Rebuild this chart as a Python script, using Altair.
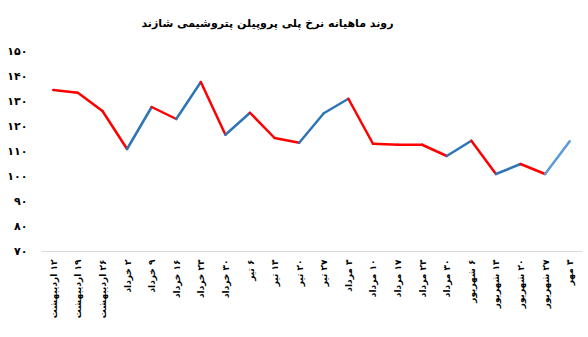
import altair as alt
import pandas as pd

title_text = "روند ماهیانه نرخ پلی پروپیلن پتروشیمی شازند"

labels = [
    "۱۲ اردیبهشت", "۱۹ اردیبهشت", "۲۶ اردیبهشت",
    "۲ خرداد", "۹ خرداد", "۱۶ خرداد", "۲۳ خرداد", "۳۰ خرداد",
    "۶ تیر", "۱۳ تیر", "۲۰ تیر", "۲۷ تیر",
    "۳ مرداد", "۱۰ مرداد", "۱۷ مرداد", "۲۳ مرداد", "۳۰ مرداد",
    "۶ شهریور", "۱۳ شهریور", "۲۰ شهریور", "۲۷ شهریور",
    "۳ مهر",
]
values = [
    134.4, 133.3, 126.0, 110.8, 127.6, 122.8, 137.6, 116.5,
    125.3, 115.2, 113.3, 125.1, 130.9, 112.9, 112.5, 112.5,
    108.0, 114.1, 100.8, 104.8, 100.8, 113.9,
]
y_ticks = [70, 80, 90, 100, 110, 120, 130, 140, 150]
y_tick_labels = ["۷۰", "۸۰", "۹۰", "۱۰۰", "۱۱۰", "۱۲۰", "۱۳۰", "۱۴۰", "۱۵۰"]

dir_names = ["down", "up", "last"]
dir_colors = ["#FF0000", "#2E75B6", "#5B9BD5"]

RLM = "\u200f"

rows = []
n = len(values)
for i in range(n - 1):
    if i == n - 2:
        d = "last"
    elif values[i + 1] > values[i]:
        d = "up"
    else:
        d = "down"
    rows.append(dict(label=RLM + labels[i], value=values[i], seg=i, dir=d))
    rows.append(dict(label=RLM + labels[i + 1], value=values[i + 1], seg=i, dir=d))
df = pd.DataFrame(rows)

label_map = "{" + ",".join(f"'{t}':'{l}'" for t, l in zip(y_ticks, y_tick_labels)) + "}"

FONT = "DejaVu Sans"

chart = alt.Chart(df).mark_line(
    strokeWidth=2.5, strokeCap="round", strokeJoin="round"
).encode(
    x=alt.X(
        "label:O",
        sort=[RLM + l for l in labels],
        scale=alt.Scale(type="point", padding=0.5),
        axis=alt.Axis(
            title=None, labelAngle=270, ticks=False, tickSize=0,
            domainColor="#D9D9D9", domainWidth=1, labelPadding=8,
            labelFont=FONT, labelFontSize=9, labelColor="#000000",
            labelFontWeight="bold",
        ),
    ),
    y=alt.Y(
        "value:Q",
        scale=alt.Scale(domain=[70, 150], nice=False, zero=False),
        axis=alt.Axis(
            title=None, values=y_ticks, labelExpr=f"{label_map}[datum.label]",
            domain=False, ticks=False, tickSize=0, grid=False, labelPadding=14,
            labelFont=FONT, labelFontSize=11, labelColor="#000000",
            labelFontWeight="bold",
        ),
    ),
    color=alt.Color(
        "dir:N", scale=alt.Scale(domain=dir_names, range=dir_colors), legend=None
    ),
    detail="seg:N",
).properties(
    width=541,
    height=200,
    padding={"left": 41, "top": 51, "right": 6, "bottom": 86},
    autosize="none",
    title=alt.Title(
        title_text, font=FONT, fontSize=11, fontWeight="bold", color="#000000",
        anchor="middle", dx=-44, offset=16,
    ),
).configure_view(stroke=None)

chart.save("out.html", embed_options={"renderer": "svg", "actions": False})
